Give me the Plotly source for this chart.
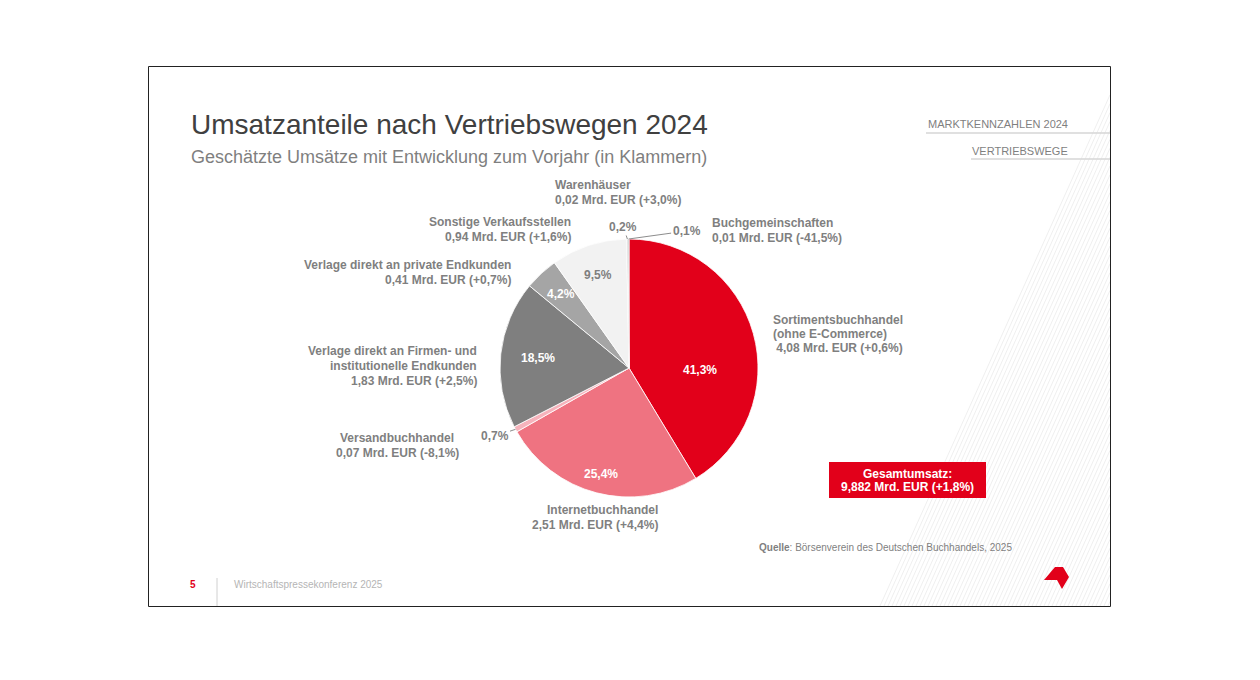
import math
import plotly.graph_objects as go

# ---------------- data ----------------
channels = [
    "Sortimentsbuchhandel",
    "Internetbuchhandel",
    "Versandbuchhandel",
    "Verlage direkt an Firmen- und institutionelle Endkunden",
    "Verlage direkt an private Endkunden",
    "Sonstige Verkaufsstellen",
    "Warenhäuser",
    "Buchgemeinschaften",
]
label_lines = [
    ["Sortimentsbuchhandel", "(ohne E-Commerce)"],
    ["Internetbuchhandel"],
    ["Versandbuchhandel"],
    ["Verlage direkt an Firmen- und", "institutionelle Endkunden"],
    ["Verlage direkt an private Endkunden"],
    ["Sonstige Verkaufsstellen"],
    ["Warenhäuser"],
    ["Buchgemeinschaften"],
]
shares = [41.3, 25.4, 0.7, 18.5, 4.2, 9.5, 0.2, 0.1]          # % Anteil
revenue_bn = [4.08, 2.51, 0.07, 1.83, 0.41, 0.94, 0.02, 0.01]  # Mrd. EUR
change_prev = ["+0,6%", "+4,4%", "-8,1%", "+2,5%", "+0,7%", "+1,6%", "+3,0%", "-41,5%"]
total_bn = "9,882"
total_change = "+1,8%"

# ---------------- styles ----------------
W, H = 1260, 680
OFF = 8  # page body margin
colors = ["#E2001A", "#EF7381", "#F6B3BC", "#7F7F7F", "#A5A5A5", "#F2F2F2", "#D0D0D0", "#595959"]
text_colors = ["white", "white", "white", "white", "white", "#7F7F7F", "white", "white"]
# inside label placement: radial factor and angular shift (deg)
in_radius = [0.55, 0.85, 0, 0.71, 0.78, 0.76, 0, 0]
in_shift = [17, 0, 0, 0, 0, 0, 0, 0]
GREY = "#7F7F7F"
FONT = "Liberation Sans, Arial, sans-serif"

CX, CY, R = 629, 368, 129  # pie centre / radius in pixels (screen)


def px(x):
    return (x - OFF) / W


def py(y):
    return 1 - (y - OFF) / H


def de(v, d):
    return f"{v:.{d}f}".replace(".", ",")


pct_text = [de(s, 1) + "%" for s in shares]

fig = go.Figure()
fig.add_trace(go.Pie(
    labels=channels,
    values=shares,
    textinfo="none",
    sort=False,
    direction="clockwise",
    rotation=0,
    marker=dict(colors=colors, line=dict(color="white", width=0.8)),
    domain=dict(x=[px(CX - R), px(CX + R)], y=[py(CY + R), py(CY - R)]),
    hoverinfo="skip",
    showlegend=False,
))

annotations = []
shapes = []


def txt(x, y, s, size=12, color=GREY, xanchor="left", bold=False):
    if bold:
        s = f"<b>{s}</b>"
    shift = {"left": -2, "right": 2, "center": 0}[xanchor]
    annotations.append(dict(
        x=px(x), y=py(y), xref="paper", yref="paper", text=s, showarrow=False,
        xanchor=xanchor, yanchor="middle", xshift=shift,
        font=dict(family=FONT, size=size, color=color),
    ))


# slide frame
shapes.append(dict(type="rect", xref="paper", yref="paper",
                   x0=px(148.5), x1=px(1110.5), y0=py(606.5), y1=py(66.5),
                   line=dict(color="#222222", width=1), fillcolor="rgba(0,0,0,0)", layer="above"))

# decorative hatching (bottom right triangle)
path = ""
slope = 0.45
x0 = 880
while x0 < 1110:
    ytop = 606 - (1110 - x0) / slope
    path += f"M{px(x0):.5f},{py(606):.5f} L{px(1110):.5f},{py(ytop):.5f} "
    x0 += 4
shapes.append(dict(type="path", xref="paper", yref="paper", path=path,
                   line=dict(color="#E4E4E4", width=0.6), layer="below"))

# title
txt(191, 124, "Umsatzanteile nach Vertriebswegen 2024", size=28, color="#404040")
txt(191, 157, "Geschätzte Umsätze mit Entwicklung zum Vorjahr (in Klammern)", size=18, color=GREY)

# top right nav
txt(1068, 124, "MARKTKENNZAHLEN 2024", size=11, color=GREY, xanchor="right")
txt(1068, 151, "VERTRIEBSWEGE", size=11, color=GREY, xanchor="right")
for (xa, yl) in [(926, 133), (971, 159)]:
    shapes.append(dict(type="line", xref="paper", yref="paper", x0=px(xa), x1=px(1110),
                       y0=py(yl), y1=py(yl), line=dict(color="#D6D6D6", width=1.5)))

# category labels: (anchor x, first line y, xanchor, line spacing)
label_pos = [
    (773, 320, "left", 14),
    (658, 510, "right", 15),
    (397, 438, "center", 15),
    (477, 351, "right", 15),
    (511, 265, "right", 15),
    (571, 222, "right", 15),
    (555, 185, "left", 15),
    (712, 223, "left", 15),
]
for i, (lx, ly, xa, sp) in enumerate(label_pos):
    value_line = f"{de(revenue_bn[i], 2)} Mrd. EUR ({change_prev[i]})"
    if i == 0:
        value_line = "\u00a0" + value_line
    lines = label_lines[i] + [value_line]
    for k, line in enumerate(lines):
        txt(lx, ly + k * sp, line, size=12, color=GREY, xanchor=xa, bold=True)

# percentage labels (positions derived from slice angles)
total_share = sum(shares)
small_offsets = {2: (-21, 7), 6: (-4, -12), 7: (58, -8)}
cum = 0
for i, s in enumerate(shares):
    mid = (cum + s / 2) / total_share
    cum += s
    th = 2 * math.pi * mid
    if i in small_offsets:
        tx = CX + R * math.sin(th)
        ty = CY - R * math.cos(th)
        ax, ay = small_offsets[i]
        annotations.append(dict(
            x=px(tx), y=py(ty), xref="paper", yref="paper", ax=ax, ay=ay,
            text=f"<b>{pct_text[i]}</b>", showarrow=True, arrowhead=0, arrowwidth=0.9,
            arrowcolor=GREY, standoff=0, font=dict(family=FONT, size=12, color=GREY),
        ))
    else:
        th2 = th + math.radians(in_shift[i])
        rr = R * in_radius[i]
        tx = CX + rr * math.sin(th2)
        ty = CY - rr * math.cos(th2)
        txt(tx, ty, pct_text[i], size=12, color=text_colors[i], xanchor="center", bold=True)

# total box
shapes.append(dict(type="rect", xref="paper", yref="paper", x0=px(829), x1=px(986),
                   y0=py(498), y1=py(462), fillcolor="#E2001A", line=dict(width=0)))
txt(907, 474, "Gesamtumsatz:", size=12, color="white", xanchor="center", bold=True)
txt(907, 487, f"{total_bn} Mrd. EUR ({total_change})", size=12, color="white", xanchor="center", bold=True)

# source
txt(759, 547, "<b>Quelle</b>: Börsenverein des Deutschen Buchhandels, 2025", size=10, color=GREY)

# footer
txt(193, 584, "5", size=10, color="#E2001A", xanchor="center", bold=True)
shapes.append(dict(type="line", xref="paper", yref="paper", x0=px(217), x1=px(217),
                   y0=py(578), y1=py(606), line=dict(color="#D0D0D0", width=1)))
txt(234, 584, "Wirtschaftspressekonferenz 2025", size=10, color="#B5B5B5")

# logo
logo = [(1044, 580), (1055, 567), (1063, 567), (1069, 577), (1062, 589), (1057, 580)]
lp = "M" + " L".join(f"{px(a):.5f},{py(b):.5f}" for a, b in logo) + " Z"
shapes.append(dict(type="path", xref="paper", yref="paper", path=lp,
                   fillcolor="#E2001A", line=dict(width=0)))

fig.update_layout(
    width=W, height=H,
    margin=dict(l=0, r=0, t=0, b=0),
    paper_bgcolor="white", plot_bgcolor="white",
    showlegend=False,
    annotations=annotations,
    shapes=shapes,
)

fig.write_html("out.html")
